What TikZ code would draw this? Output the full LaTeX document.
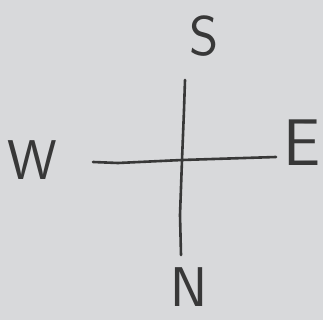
\documentclass[tikz,border=0pt]{standalone}
\begin{document}
\begin{tikzpicture}[x=1pt,y=-1pt,
  lbl/.style={text=ink, font=\sffamily\fontsize{56}{56}\selectfont, inner sep=0pt, anchor=center},
  stroke/.style={draw=ink, line width=2.6pt, line cap=round, line join=round}]
\definecolor{bg}{HTML}{D8D9DB}
\definecolor{ink}{HTML}{383838}
\fill[bg] (0,0) rectangle (323,320);
\useasboundingbox (0,0) rectangle (323,320);
% labels
\node[lbl] (S) at (204,36) {S};
\node[lbl] (W) at (32,160) {W};
\node[lbl, font=\sffamily\fontsize{66}{66}\selectfont] (E) at (302,143) {E};
\node[lbl] (N) at (189,287) {N};
% line ends
\coordinate (vt) at (185,80);
\coordinate (vm) at (182,160);
\coordinate (vb) at (181,255);
\coordinate (hl) at (93,162);
\coordinate (hr) at (276,157);
\draw[stroke] (vt) -- (184,110) -- (vm) -- (180,215) -- (vb);
\draw[stroke] (hl) -- (118,163) -- (vm) -- (hr);
\end{tikzpicture}
\end{document}
